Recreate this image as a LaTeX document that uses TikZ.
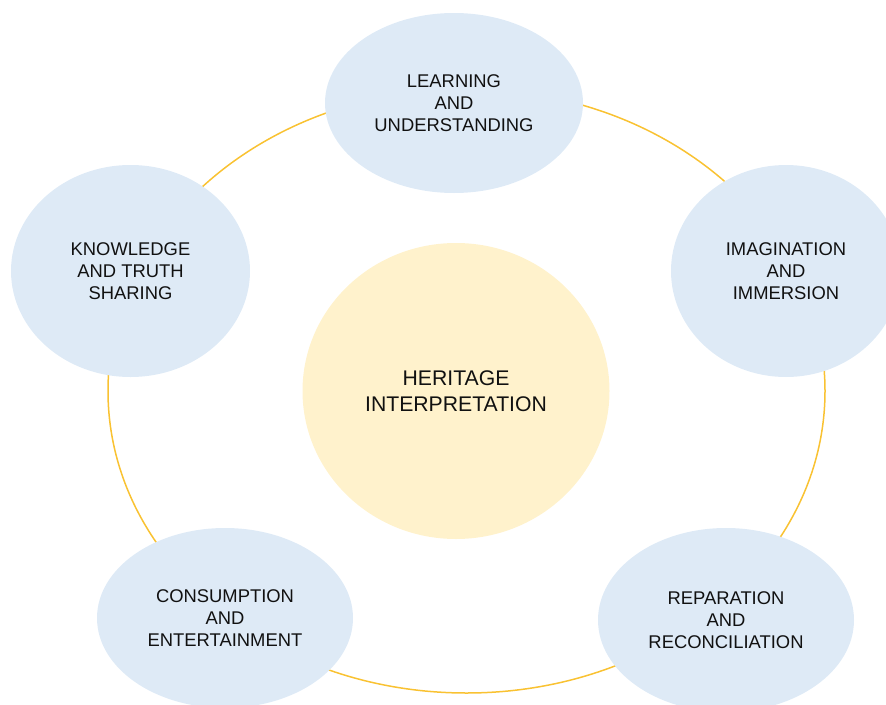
\documentclass[tikz,border=0pt]{standalone}
\usepackage{fontspec}
\setmainfont{Liberation Sans}
\usetikzlibrary{shapes.geometric}
\definecolor{petal}{HTML}{DEEAF6}
\definecolor{core}{HTML}{FFF2CC}
\definecolor{ring}{HTML}{F9C232}
\definecolor{ink}{HTML}{111111}
\begin{document}
\begin{tikzpicture}[x=1pt,y=-1pt,
  petalnode/.style={ellipse, fill=petal, inner sep=0pt, align=center,
    text=ink, font=\fontsize{18.4}{22}\selectfont},
  corenode/.style={ellipse, fill=core, inner sep=0pt, align=center,
    text=ink, font=\fontsize{21.2}{26}\selectfont}]
  \useasboundingbox (0,0) rectangle (886,704);
  \clip (0,0) rectangle (886,704);
  % outer ring linking the five themes
  \coordinate (hub) at (466.5,391);
  \draw[ring, line width=1.5pt] (hub) ellipse [x radius=358.5, y radius=302];
  % central theme
  \node[corenode, minimum width=307pt, minimum height=296pt] (core) at (456,391)
    {HERITAGE\\INTERPRETATION};
  % surrounding themes
  \node[petalnode, minimum width=258pt, minimum height=180pt] (learn) at (454,103)
    {LEARNING\\AND\\UNDERSTANDING};
  \node[petalnode, minimum width=239pt, minimum height=212pt] (know) at (130.5,271)
    {KNOWLEDGE\\AND TRUTH\\SHARING};
  \node[petalnode, minimum width=230pt, minimum height=212pt] (imag) at (786,271)
    {IMAGINATION\\AND\\IMMERSION};
  \node[petalnode, minimum width=256pt, minimum height=180pt] (cons) at (225,618)
    {CONSUMPTION\\AND\\ENTERTAINMENT};
  \node[petalnode, minimum width=256pt, minimum height=184pt] (repar) at (726,620)
    {REPARATION\\AND\\RECONCILIATION};
\end{tikzpicture}
\end{document}
